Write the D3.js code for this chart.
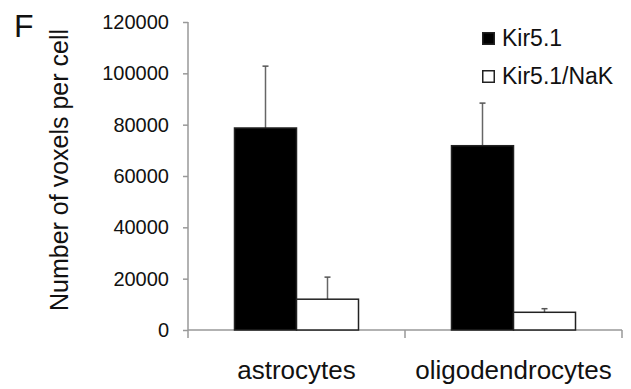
<!DOCTYPE html>
<html>
<head>
<meta charset="utf-8">
<script src="https://cdn.jsdelivr.net/npm/d3@7"></script>
<style>
body { margin: 0; background: #fff; }
text { font-family: "Liberation Sans", Arial, sans-serif; fill: #111; }
</style>
</head>
<body>
<script>
var w = 631, h = 389;

// data
var categories = ["astrocytes", "oligodendrocytes"];
var series = ["Kir5.1", "Kir5.1/NaK"];
var kir = [78700, 71800];
var kirErr = [24100, 16600];
var nak = [12000, 6900];
var nakErr = [8600, 1400];
var yTicks = [0, 20000, 40000, 60000, 80000, 100000, 120000];

var fills = ["#000", "#fff"];

var rows = [];
categories.forEach(function(c, i) {
    rows.push({cat: c, s: series[0], v: kir[i], e: kirErr[i]});
    rows.push({cat: c, s: series[1], v: nak[i], e: nakErr[i]});
});

var svg = d3.select("body").append("svg")
    .attr("width", w)
    .attr("height", h);

var y = d3.scaleLinear().domain([0, 120000]).range([330, 22]);
var x0 = d3.scaleBand().domain(categories).range([188, 622]);
var x1 = d3.scaleBand().domain(series).range([0, x0.bandwidth()]).paddingOuter(0.75);

// y axis
var yAx = svg.append("g").attr("transform", "translate(188,0)")
    .call(d3.axisLeft(y).tickValues(yTicks).tickSize(5).tickPadding(14).tickFormat(d3.format("d")));
yAx.select(".domain").attr("stroke", "#999").attr("stroke-width", 1.5).attr("d", "M0,22V338");
yAx.selectAll(".tick line").attr("stroke", "#999").attr("stroke-width", 1.5);
yAx.selectAll(".tick text").attr("font-size", 20).attr("fill", "#111")
    .attr("font-family", "Liberation Sans, Arial, sans-serif");

// x axis
svg.append("line").attr("x1", 188).attr("x2", 622).attr("y1", 330).attr("y2", 330)
    .attr("stroke", "#999").attr("stroke-width", 1.5);
svg.selectAll(".xt").data(categories.slice(1).concat(["end"]))
    .enter().append("line")
    .attr("x1", function(d, i) { return i == 0 ? x0(d) : 622; })
    .attr("x2", function(d, i) { return i == 0 ? x0(d) : 622; })
    .attr("y1", 330).attr("y2", 338)
    .attr("stroke", "#999").attr("stroke-width", 1.5);

svg.selectAll(".cat").data(categories).enter().append("text")
    .attr("x", function(d) { return x0(d) + x0.bandwidth() / 2; })
    .attr("y", 379)
    .attr("text-anchor", "middle")
    .attr("font-size", 26)
    .text(function(d) { return d; });

// error bars
var eb = svg.selectAll(".eb").data(rows).enter().append("g");
eb.append("line")
    .attr("x1", function(d) { return x0(d.cat) + x1(d.s) + x1.bandwidth() / 2; })
    .attr("x2", function(d) { return x0(d.cat) + x1(d.s) + x1.bandwidth() / 2; })
    .attr("y1", function(d) { return y(d.v); })
    .attr("y2", function(d) { return y(d.v + d.e); })
    .attr("stroke", "#666").attr("stroke-width", 1.5);
eb.append("line")
    .attr("x1", function(d) { return x0(d.cat) + x1(d.s) + x1.bandwidth() / 2 - 3; })
    .attr("x2", function(d) { return x0(d.cat) + x1(d.s) + x1.bandwidth() / 2 + 3; })
    .attr("y1", function(d) { return y(d.v + d.e); })
    .attr("y2", function(d) { return y(d.v + d.e); })
    .attr("stroke", "#555").attr("stroke-width", 1.5);

// bars
svg.selectAll(".bar").data(rows).enter().append("rect")
    .attr("x", function(d) { return x0(d.cat) + x1(d.s); })
    .attr("y", function(d) { return y(d.v); })
    .attr("width", x1.bandwidth())
    .attr("height", function(d) { return 330 - y(d.v); })
    .attr("fill", function(d) { return fills[series.indexOf(d.s)]; })
    .attr("stroke", "#222")
    .attr("stroke-width", 1.5);

// legend
var leg = svg.selectAll(".leg").data(series).enter().append("g")
    .attr("transform", function(d, i) { return "translate(482," + (32 + i * 38) + ")"; });
leg.append("rect")
    .attr("x", 0.75).attr("y", 0.75).attr("width", 11.5).attr("height", 11.5)
    .attr("fill", function(d, i) { return fills[i]; })
    .attr("stroke", "#222").attr("stroke-width", 1.5);
leg.append("text")
    .attr("x", 20).attr("y", 14)
    .attr("font-size", 23)
    .text(function(d) { return d; });

// axis title
svg.append("text")
    .attr("transform", "translate(68,170) rotate(-90)")
    .attr("text-anchor", "middle")
    .attr("font-size", 25)
    .text("Number of voxels per cell");

svg.append("text")
    .attr("x", 14).attr("y", 37)
    .attr("font-size", 32)
    .text("F");
</script>
</body>
</html>
